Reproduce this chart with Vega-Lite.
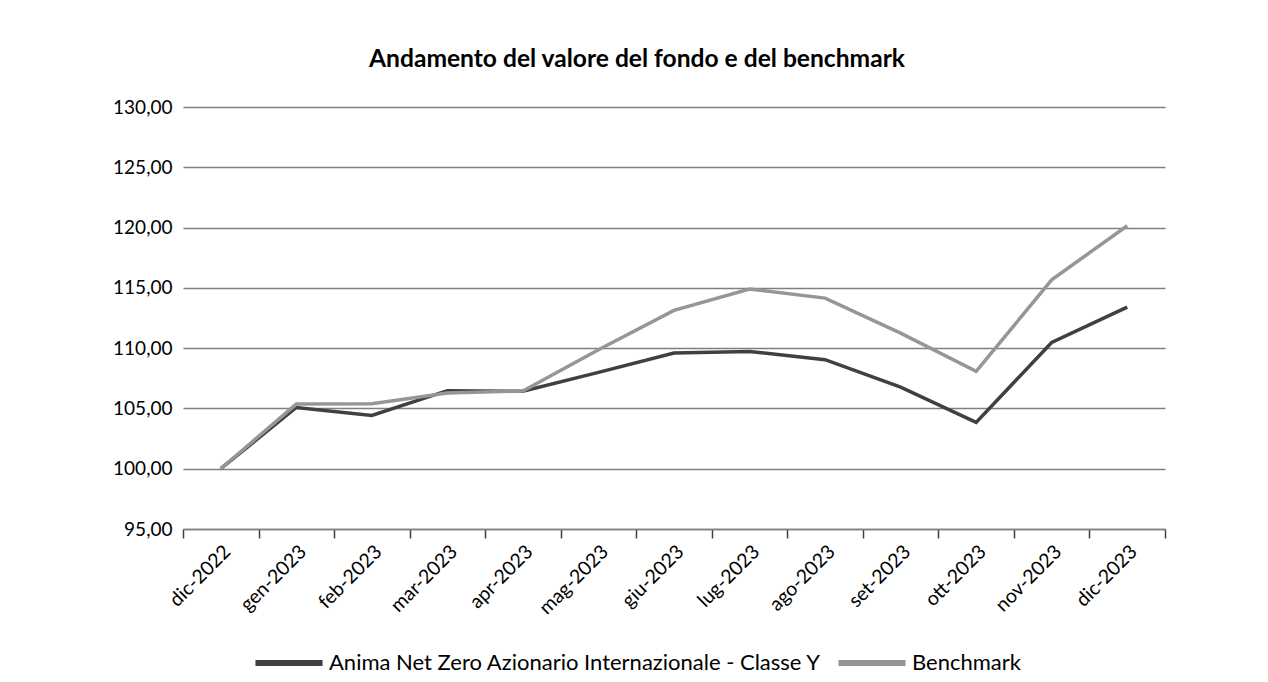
{
  "$schema": "https://vega.github.io/schema/vega-lite/v6.json",
  "autosize": {"type": "none"},
  "width": 982,
  "height": 422,
  "padding": {"left": 183, "top": 107, "right": 103, "bottom": 153},
  "background": "white",
  "title": {
    "text": "Andamento del valore del fondo e del benchmark",
    "anchor": "middle",
    "font": "Lato",
    "fontSize": 24.6,
    "fontWeight": "bold",
    "color": "#000000",
    "offset": 25,
    "dx": -37
  },
  "data": {
    "values": [
      {"mese": "dic-2022", "serie": "Anima Net Zero Azionario Internazionale - Classe Y", "valore": 100.0},
      {"mese": "gen-2023", "serie": "Anima Net Zero Azionario Internazionale - Classe Y", "valore": 105.08},
      {"mese": "feb-2023", "serie": "Anima Net Zero Azionario Internazionale - Classe Y", "valore": 104.42},
      {"mese": "mar-2023", "serie": "Anima Net Zero Azionario Internazionale - Classe Y", "valore": 106.47},
      {"mese": "apr-2023", "serie": "Anima Net Zero Azionario Internazionale - Classe Y", "valore": 106.42},
      {"mese": "mag-2023", "serie": "Anima Net Zero Azionario Internazionale - Classe Y", "valore": 107.99},
      {"mese": "giu-2023", "serie": "Anima Net Zero Azionario Internazionale - Classe Y", "valore": 109.6},
      {"mese": "lug-2023", "serie": "Anima Net Zero Azionario Internazionale - Classe Y", "valore": 109.73},
      {"mese": "ago-2023", "serie": "Anima Net Zero Azionario Internazionale - Classe Y", "valore": 109.04},
      {"mese": "set-2023", "serie": "Anima Net Zero Azionario Internazionale - Classe Y", "valore": 106.77},
      {"mese": "ott-2023", "serie": "Anima Net Zero Azionario Internazionale - Classe Y", "valore": 103.84},
      {"mese": "nov-2023", "serie": "Anima Net Zero Azionario Internazionale - Classe Y", "valore": 110.47},
      {"mese": "dic-2023", "serie": "Anima Net Zero Azionario Internazionale - Classe Y", "valore": 113.4},
      {"mese": "dic-2022", "serie": "Benchmark", "valore": 100.0},
      {"mese": "gen-2023", "serie": "Benchmark", "valore": 105.36},
      {"mese": "feb-2023", "serie": "Benchmark", "valore": 105.39},
      {"mese": "mar-2023", "serie": "Benchmark", "valore": 106.27},
      {"mese": "apr-2023", "serie": "Benchmark", "valore": 106.45},
      {"mese": "mag-2023", "serie": "Benchmark", "valore": 109.87},
      {"mese": "giu-2023", "serie": "Benchmark", "valore": 113.13},
      {"mese": "lug-2023", "serie": "Benchmark", "valore": 114.9},
      {"mese": "ago-2023", "serie": "Benchmark", "valore": 114.15},
      {"mese": "set-2023", "serie": "Benchmark", "valore": 111.25},
      {"mese": "ott-2023", "serie": "Benchmark", "valore": 108.07},
      {"mese": "nov-2023", "serie": "Benchmark", "valore": 115.67},
      {"mese": "dic-2023", "serie": "Benchmark", "valore": 120.15}
    ]
  },
  "mark": {"type": "line", "strokeWidth": 3.5, "strokeJoin": "miter"},
  "encoding": {
    "x": {
      "field": "mese",
      "type": "ordinal",
      "sort": ["dic-2022", "gen-2023", "feb-2023", "mar-2023", "apr-2023", "mag-2023", "giu-2023", "lug-2023", "ago-2023", "set-2023", "ott-2023", "nov-2023", "dic-2023"],
      "scale": {"type": "band", "paddingInner": 0, "paddingOuter": 0},
      "axis": {
        "title": null,
        "labelAngle": -45,
        "labelFont": "Lato",
        "labelFontSize": 19.5,
        "labelColor": "#000000",
        "labelPadding": 4,
        "domainColor": "#7f7f7f",
        "domainWidth": 1.5,
        "tickBand": "extent",
        "tickColor": "#404040",
        "tickWidth": 1.5,
        "tickSize": 9,
        "grid": false
      }
    },
    "y": {
      "field": "valore",
      "type": "quantitative",
      "scale": {"domain": [95, 130], "nice": false, "zero": false},
      "axis": {
        "title": null,
        "values": [95, 100, 105, 110, 115, 120, 125, 130],
        "labelExpr": "replace(format(datum.value, '.2f'), '.', ',')",
        "labelFont": "Lato",
        "labelFontSize": 19,
        "labelColor": "#000000",
        "labelPadding": 11,
        "ticks": false,
        "domain": false,
        "grid": true,
        "gridColor": "#7f7f7f",
        "gridWidth": 1.5
      }
    },
    "color": {
      "field": "serie",
      "type": "nominal",
      "scale": {
        "domain": ["Anima Net Zero Azionario Internazionale - Classe Y", "Benchmark"],
        "range": ["#404040", "#969696"]
      },
      "legend": {
        "title": null,
        "orient": "none",
        "legendX": 69,
        "legendY": 519,
        "direction": "horizontal",
        "symbolType": "stroke",
        "symbolSize": 4500,
        "symbolStrokeWidth": 6,
        "labelFont": "Lato",
        "labelFontSize": 22,
        "labelColor": "#000000",
        "labelOffset": 3,
        "labelLimit": 700,
        "columnPadding": 4
      }
    }
  },
  "config": {
    "view": {"stroke": null}
  }
}
